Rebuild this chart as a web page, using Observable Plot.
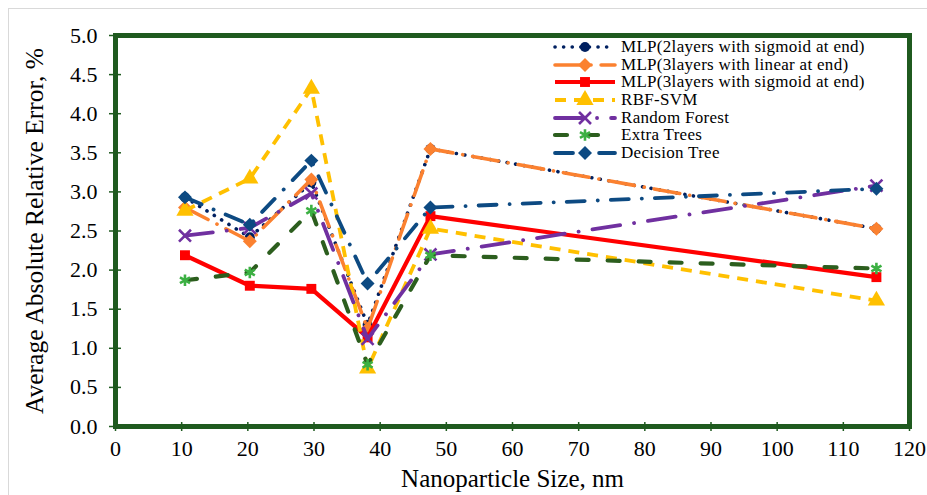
<!DOCTYPE html>
<html><head><meta charset="utf-8">
<script src="https://cdn.jsdelivr.net/npm/d3@7"></script>
<script src="https://cdn.jsdelivr.net/npm/@observablehq/plot@0.6"></script>
<style>
body{margin:0;background:#fff;overflow:hidden;font-family:'Liberation Serif',serif}
#wrap{position:relative;width:927px;height:495px;background:#fff}
#border{position:absolute;left:8px;top:8px;width:1000px;height:1000px;border-left:1px solid #d9d9d9;border-top:1px solid #d9d9d9;pointer-events:none}
#legend{position:absolute;left:553px;top:38px;font-family:'Liberation Serif',serif;font-size:17px;letter-spacing:0.3px;color:#000;line-height:17.7px}
.row{display:flex;align-items:center;height:17.7px;white-space:nowrap}
.row svg{width:66px;height:18px;margin-right:2px;overflow:visible}
</style></head><body>
<div id="wrap"><div id="chart"></div><div id="border"></div><div id="legend"></div></div>
<script>
// ---- data ----
const sizes = [10.5, 20.3, 29.6, 38.1, 47.6, 115];
const mlp2Sigmoid   = [2.93, 2.42, 3.12, 1.30, 3.55, 2.53];
const mlp3Linear    = [2.80, 2.37, 3.16, 1.25, 3.55, 2.53];
const mlp3Sigmoid   = [2.19, 1.80, 1.76, 1.14, 2.69, 1.91];
const rbfSvm        = [2.76, 3.17, 4.32, 0.74, 2.53, 1.61];
const randomForest  = [2.44, 2.54, 2.98, 1.12, 2.20, 3.08];
const extraTrees    = [1.87, 1.97, 2.76, 0.79, 2.19, 2.02];
const decisionTree  = [2.93, 2.58, 3.40, 1.83, 2.80, 3.04];
const seriesNames = [
  "MLP(2layers with sigmoid at end)",
  "MLP(3layers with linear at end)",
  "MLP(3layers with sigmoid at end)",
  "RBF-SVM",
  "Random Forest",
  "Extra Trees",
  "Decision Tree"
];
const xTicks = [0,10,20,30,40,50,60,70,80,90,100,110,120];
const yTicks = [0,0.5,1,1.5,2,2.5,3,3.5,4,4.5,5];

// ---- styles ----
const styles = [
  {color:"#002060", width:3.6, dash:"0.1 8.5", cap:"round", symbol:"circle", r:5, fill:"#002060"},
  {color:"#fb8130", width:3.6, dash:"26 10 0.1 10", cap:"round", symbol:"diamond2", r:6.3, fill:"#fb8130"},
  {color:"#ff0000", width:4.2, dash:null, cap:"butt", symbol:"square", r:5.6, fill:"#ff0000"},
  {color:"#ffc000", width:3.8, dash:"11 8", cap:"butt", symbol:"triangle", r:6.4, fill:"#ffc000"},
  {color:"#7030a0", width:3.8, dash:"28 14 0.1 14", cap:"round", symbol:"times", r:5.5, stroke:"#7030a0"},
  {color:"#2c5e1e", width:4.2, dash:"12 19", cap:"round", symbol:"asterisk", r:5.5, stroke:"#3cb043"},
  {color:"#0d4a82", width:3.8, dash:"18 13 0.1 13", cap:"round", symbol:"diamond2", r:6.3, fill:"#0d4a82"}
];
const seriesValues = [mlp2Sigmoid, mlp3Linear, mlp3Sigmoid, rbfSvm, randomForest, extraTrees, decisionTree];

const green = "#1f5a1f";
const marks = [];
seriesValues.forEach((vals, i) => {
  const s = styles[i];
  const data = sizes.map((x, j) => ({x, y: vals[j]}));
  marks.push(Plot.line(data, {x:"x", y:"y", stroke:s.color, strokeWidth:s.width,
    strokeDasharray:s.dash || undefined, strokeLinecap:s.cap, strokeLinejoin:"round"}));
  const dotOpts = {x:"x", y:"y", symbol:s.symbol, r:s.r};
  if (s.fill) { dotOpts.fill = s.fill; dotOpts.stroke = "none"; }
  else { dotOpts.stroke = s.stroke; dotOpts.strokeWidth = 2.6; dotOpts.fill = "none"; }
  marks.push(Plot.dot(data, dotOpts));
});

const chart = Plot.plot({
  width: 927, height: 495,
  marginLeft: 115, marginRight: 18, marginTop: 35, marginBottom: 69,
  style: {fontFamily: "'Liberation Serif', serif", fontSize: "22px", color: "#000", background: "white"},
  x: {domain: [0, 120]},
  y: {domain: [0, 5]},
  marks: [
    ...marks,
    Plot.frame({stroke: green, strokeWidth: 5}),
    Plot.axisY({ticks: yTicks, tickSize: 12, dx: 6, tickFormat: () => "", label: null, stroke: green, strokeWidth: 1.5}),
    Plot.axisX({ticks: xTicks, tickSize: 9, dy: -4, tickFormat: () => "", label: null, stroke: green, strokeWidth: 1.5}),
    Plot.axisY({ticks: yTicks, tickSize: 0, tickPadding: 18, tickFormat: d3.format(".1f"), fontSize: 22, fill: "#000", label: null}),
    Plot.axisX({ticks: xTicks, tickSize: 0, tickPadding: 14, tickFormat: d3.format("d"), fontSize: 22, fill: "#000", label: null}),
    Plot.axisY({ticks: [], label: "Average Absolute Relative Error, %", labelAnchor: "center", labelArrow: "none", labelOffset: 91, fontSize: 25.5, fill: "#000"}),
    Plot.axisX({ticks: [], label: "Nanoparticle Size, nm", labelAnchor: "center", labelArrow: "none", labelOffset: 60, fontSize: 25, fill: "#000"})
  ]
});
document.getElementById("chart").appendChild(chart);

// ---- legend ----
const legend = d3.select("#legend");
const symGen = {circle: d3.symbolCircle, diamond2: d3.symbolDiamond2, square: d3.symbolSquare,
  triangle: d3.symbolTriangle, times: d3.symbolTimes, asterisk: d3.symbolAsterisk};
seriesNames.forEach((name, i) => {
  const s = styles[i];
  const row = legend.append("div").attr("class", "row");
  const svg = row.append("svg");
  svg.append("line").attr("x1", 2).attr("x2", 62).attr("y1", 9).attr("y2", 9)
    .attr("stroke", s.color).attr("stroke-width", s.width)
    .attr("stroke-dasharray", s.dash).attr("stroke-linecap", s.cap);
  const size = Math.PI * s.r * s.r;
  const p = svg.append("path").attr("transform", "translate(32,9)")
    .attr("d", d3.symbol(symGen[s.symbol], size)());
  if (s.fill) p.attr("fill", s.fill);
  else p.attr("fill", "none").attr("stroke", s.stroke).attr("stroke-width", 2.6);
  row.append("span").text(name);
});
</script></body></html>
